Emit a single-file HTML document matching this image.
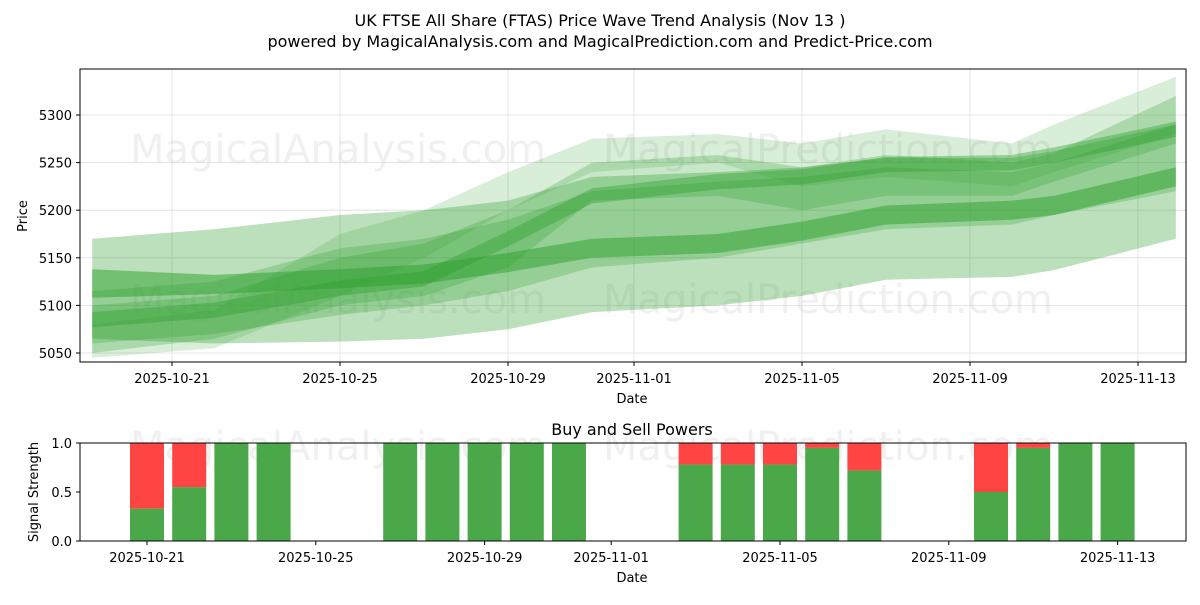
<!DOCTYPE html>
<html><head><meta charset="utf-8"><style>
body{margin:0;background:#fff;font-family:"Liberation Sans","DejaVu Sans",sans-serif}
svg text{font-family:"DejaVu Sans","Liberation Sans",sans-serif}
</style></head><body>
<svg id="c" width="1200" height="600" viewBox="0 0 1200 600" xmlns="http://www.w3.org/2000/svg">
<rect width="1200" height="600" fill="#fff"/>
<text x="600" y="26" font-size="16" text-anchor="middle">UK FTSE All Share (FTAS) Price Wave Trend Analysis (Nov 13 )</text>
<text x="600" y="47" font-size="16" text-anchor="middle">powered by MagicalAnalysis.com and MagicalPrediction.com and Predict-Price.com</text>
<g id="topg"></g><g id="botg"></g>
</svg>
<script>
const tickDates=["2025-10-21","2025-10-25","2025-10-29","2025-11-01","2025-11-05","2025-11-09","2025-11-13"];
const tickDays=[0,4,8,11,15,19,23];
const priceTicks=[5050,5100,5150,5200,5250,5300];
const bandDays=[-1.9,1,4,6,8,10,13,15,17,20,21,23.9];
const band1Lo=[5065,5060,5062,5065,5075,5093,5100,5110,5127,5130,5137,5170];
const band1Hi=[5170,5180,5195,5200,5210,5235,5240,5245,5255,5255,5262,5290];
const band2Lo=[5108,5112,5118,5123,5135,5150,5155,5168,5185,5190,5195,5225];
const band2Hi=[5138,5132,5138,5143,5155,5170,5175,5188,5205,5210,5215,5245];
const band3Lo=[5050,5065,5100,5110,5140,5210,5215,5200,5215,5215,5230,5270];
const band3Hi=[5100,5110,5150,5165,5200,5250,5258,5245,5258,5250,5260,5320];
const band4Lo=[5060,5070,5090,5100,5115,5140,5150,5165,5180,5185,5195,5220];
const band4Hi=[5115,5125,5160,5170,5190,5220,5230,5235,5245,5240,5250,5290];
const band5Lo=[5077,5087,5110,5120,5162,5207,5222,5227,5240,5242,5250,5277];
const band5Hi=[5093,5103,5126,5136,5178,5223,5238,5243,5256,5258,5266,5293];
const band6Lo=[5045,5055,5110,5150,5200,5240,5250,5225,5235,5225,5240,5280];
const band6Hi=[5080,5095,5175,5200,5240,5275,5280,5270,5285,5270,5290,5340];
const barDays=[0,1,2,3,6,7,8,9,10,13,14,15,16,17,20,21,22,23];
const buyPower=[0.33,0.55,1,1,1,1,1,1,1,0.78,0.78,0.78,0.95,0.72,0.5,0.95,1,1];
const powerTicks=[0,0.5,1.0];

const NS="http://www.w3.org/2000/svg";
const X=d=>172+42*d;
const XB=d=>147+42.2*d;
const Y=p=>353-(p-5050)*0.952;
const YB=v=>541-v*98;
function el(tag,attrs,parent,txt){const e=document.createElementNS(NS,tag);for(const k in attrs)e.setAttribute(k,attrs[k]);if(txt!==undefined)e.textContent=txt;parent.appendChild(e);return e;}
const topG=document.getElementById('topg'),botG=document.getElementById('botg');

let g=el('g',{},topG);


tickDays.forEach(d=>el('line',{x1:X(d),x2:X(d),y1:69,y2:362,stroke:'#ddd','stroke-width':0.8},g));
priceTicks.forEach(p=>el('line',{x1:80,x2:1186,y1:Y(p),y2:Y(p),stroke:'#ddd','stroke-width':0.8},g));
let wm=el('g',{fill:'#ccc','fill-opacity':0.3,'font-size':40},topG);


el('text',{x:130,y:163},wm,'MagicalAnalysis.com');el('text',{x:603,y:163},wm,'MagicalPrediction.com');
el('text',{x:130,y:313},wm,'MagicalAnalysis.com');el('text',{x:603,y:313},wm,'MagicalPrediction.com');
el('text',{x:130,y:460},wm,'MagicalAnalysis.com');el('text',{x:603,y:460},wm,'MagicalPrediction.com');
const bands=[[band1Lo,band1Hi,0.32],[band6Lo,band6Hi,0.18],[band3Lo,band3Hi,0.26],[band4Lo,band4Hi,0.26],[band2Lo,band2Hi,0.5],[band5Lo,band5Hi,0.4]];
bands.forEach((b,i)=>{
  const pts=bandDays.map((d,j)=>X(d)+','+Y(b[1][j])).concat(bandDays.map((d,j)=>X(d)+','+Y(b[0][j])).reverse());
  const p=el('polygon',{points:pts.join(' '),fill:'#2ca02c','fill-opacity':b[2]},topG);
  
  
});
el('rect',{x:80,y:69,width:1106,height:293,fill:'none',stroke:'#000','stroke-width':1},topG);
tickDays.forEach((d,i)=>{el('line',{x1:X(d),x2:X(d),y1:362,y2:366,stroke:'#000'},topG);
  const t=el('text',{x:X(d),y:383,'font-size':13,'text-anchor':'middle'},topG,tickDates[i]);
  
  });
priceTicks.forEach(p=>{el('line',{x1:76,x2:80,y1:Y(p),y2:Y(p),stroke:'#000'},topG);
  const t=el('text',{x:72,y:Y(p)+5,'font-size':13,'text-anchor':'end'},topG,p);
  
  });
let t=el('text',{x:632,y:403,'font-size':13,'text-anchor':'middle'},topG,'Date');


t=el('text',{x:27,y:216,'font-size':13,'text-anchor':'middle',transform:'rotate(-90 27 216)'},topG,'Price');



t=el('text',{x:632,y:435,'font-size':16,'text-anchor':'middle'},botG,'Buy and Sell Powers');


barDays.forEach((d,i)=>{
  const x=XB(d)-17;
  const r=el('rect',{x:x,y:YB(1),width:34,height:YB(buyPower[i])-YB(1),fill:'#ff4444'},botG);
  
  
  const gb=el('rect',{x:x,y:YB(buyPower[i]),width:34,height:YB(0)-YB(buyPower[i]),fill:'#4aa84a'},botG);
  
  
});
el('rect',{x:80,y:443,width:1106,height:98,fill:'none',stroke:'#000'},botG);
tickDays.forEach((d,i)=>{el('line',{x1:XB(d),x2:XB(d),y1:541,y2:545,stroke:'#000'},botG);
  const tt=el('text',{x:XB(d),y:562,'font-size':13,'text-anchor':'middle'},botG,tickDates[i]);
  
  });
powerTicks.forEach(v=>{el('line',{x1:76,x2:80,y1:YB(v),y2:YB(v),stroke:'#000'},botG);
  const tt=el('text',{x:72,y:YB(v)+5,'font-size':13,'text-anchor':'end'},botG,v.toFixed(1));
  
  });
t=el('text',{x:632,y:582,'font-size':13,'text-anchor':'middle'},botG,'Date');


t=el('text',{x:38,y:492,'font-size':13,'text-anchor':'middle',transform:'rotate(-90 38 492)'},botG,'Signal Strength');


</script>
</body></html>
